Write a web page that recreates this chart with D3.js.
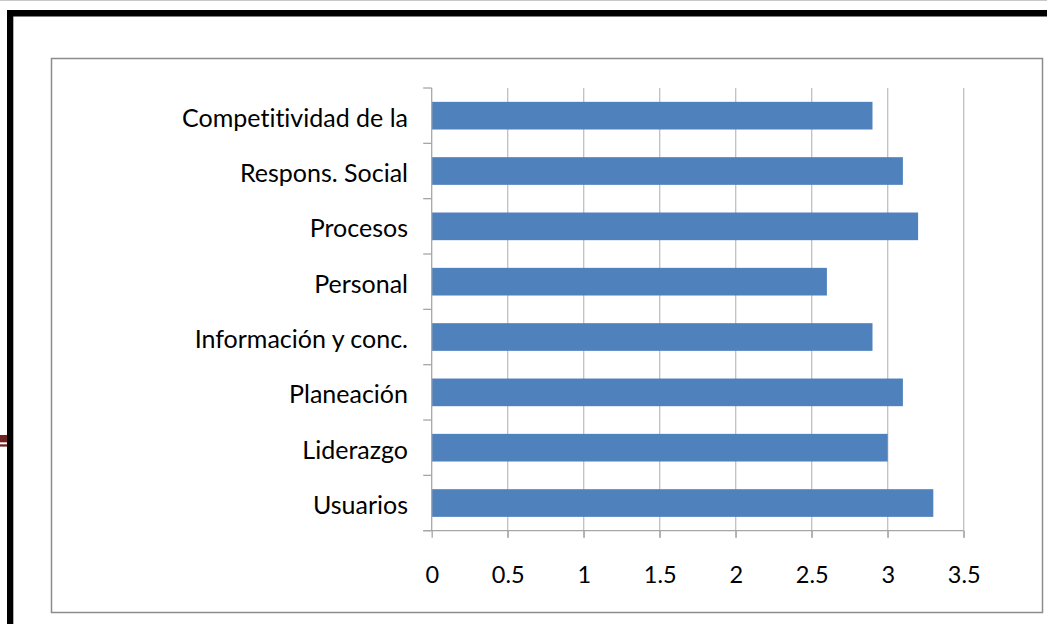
<!DOCTYPE html>
<html>
<head>
<meta charset="utf-8">
<script src="https://cdn.jsdelivr.net/npm/d3@7"></script>
<style>
  body { margin: 0; background: #fff; }
  svg { display: block; }
  .lbl { font-family: Lato, "Open Sans", sans-serif; fill: #000; font-variant-ligatures: none; }
</style>
</head>
<body>
<div id="chart"></div>
<script>
// chart data
var categories = ["Competitividad de la", "Respons. Social", "Procesos", "Personal",
  "Información y conc.", "Planeación", "Liderazgo", "Usuarios"];
var values = [2.9, 3.1, 3.2, 2.6, 2.9, 3.1, 3.0, 3.3];
var xTicks = [0, 0.5, 1, 1.5, 2, 2.5, 3, 3.5];

var W = 1047, H = 624;
var plot = { left: 431.7, right: 963.7, top: 88, bottom: 530.7 };

var svg = d3.select("#chart").append("svg")
  .attr("width", W)
  .attr("height", H);

svg.append("rect").attr("width", W).attr("height", H).attr("fill", "#fff");

// page frame bits
svg.append("line")
  .attr("x1", 0).attr("x2", W).attr("y1", 0.5).attr("y2", 0.5)
  .attr("stroke", "#c8c8c8");
svg.append("rect").attr("x", 7).attr("y", 10).attr("width", W - 7).attr("height", 6.5).attr("fill", "#000");
svg.append("rect").attr("x", 7).attr("y", 10).attr("width", 6.3).attr("height", H - 10).attr("fill", "#000");
svg.append("rect").attr("x", 0).attr("y", 435).attr("width", 7).attr("height", 7.3).attr("fill", "#6e2222");
svg.append("rect").attr("x", 0).attr("y", 444.3).attr("width", 7).attr("height", 2.3).attr("fill", "#6e2222");

// chart area border
svg.append("rect")
  .attr("x", 51.5).attr("y", 58.5)
  .attr("width", 991).attr("height", 554)
  .attr("fill", "#fff")
  .attr("stroke", "#8c8c8c")
  .attr("stroke-width", 1.5);

var x = d3.scaleLinear()
  .domain([0, 3.5])
  .range([plot.left, plot.right]);

var y = d3.scaleBand()
  .domain(categories)
  .range([plot.top, plot.bottom])
  .paddingInner(0.5)
  .paddingOuter(0.25);

// vertical gridlines
svg.append("g")
  .selectAll("line")
  .data(xTicks.slice(1))
  .enter().append("line")
  .attr("x1", function (d) { return x(d); })
  .attr("x2", function (d) { return x(d); })
  .attr("y1", plot.top)
  .attr("y2", plot.bottom + 7)
  .attr("stroke", "#c0c0c0")
  .attr("stroke-width", 1.3);

// bars
svg.append("g")
  .selectAll("rect")
  .data(values)
  .enter().append("rect")
  .attr("x", x(0))
  .attr("y", function (d, i) { return y(categories[i]); })
  .attr("width", function (d) { return x(d) - x(0); })
  .attr("height", y.bandwidth())
  .attr("fill", "#4f81bd");

// x axis
var xAxis = d3.axisBottom(x).tickValues(xTicks).tickSize(7).tickPadding(29)
  .tickFormat(function (d) { return String(d); });
var gx = svg.append("g")
  .attr("transform", "translate(0," + plot.bottom + ")")
  .call(xAxis);
gx.select(".domain").remove();
gx.append("line")
  .attr("x1", plot.left - 8.5).attr("x2", plot.right)
  .attr("stroke", "#a6a6a6").attr("stroke-width", 1.3);
gx.selectAll(".tick line").attr("stroke", "#a6a6a6").attr("stroke-width", 1.3);
gx.selectAll(".tick text")
  .attr("class", "lbl")
  .style("font-size", "23.5px")
  .attr("dy", "0.71em");

// y axis
var band = y.step();
var edges = d3.range(categories.length + 1).map(function (i) { return plot.top + i * band; });
var gy = svg.append("g");
gy.append("line")
  .attr("x1", plot.left).attr("x2", plot.left)
  .attr("y1", plot.top).attr("y2", plot.bottom)
  .attr("stroke", "#a6a6a6").attr("stroke-width", 1.3);
gy.selectAll(".ytick")
  .data(edges)
  .enter().append("line")
  .attr("class", "ytick")
  .attr("x1", plot.left - 8.5).attr("x2", plot.left)
  .attr("y1", function (d) { return d; })
  .attr("y2", function (d) { return d; })
  .attr("stroke", "#a6a6a6").attr("stroke-width", 1.3);
gy.selectAll(".ylab")
  .data(categories)
  .enter().append("text")
  .attr("class", "lbl")
  .attr("x", 408)
  .attr("y", function (d) { return y(d) + y.bandwidth() / 2 + 11; })
  .attr("text-anchor", "end")
  .style("font-size", "25px")
  .text(function (d) { return d; });
</script>
</body>
</html>
